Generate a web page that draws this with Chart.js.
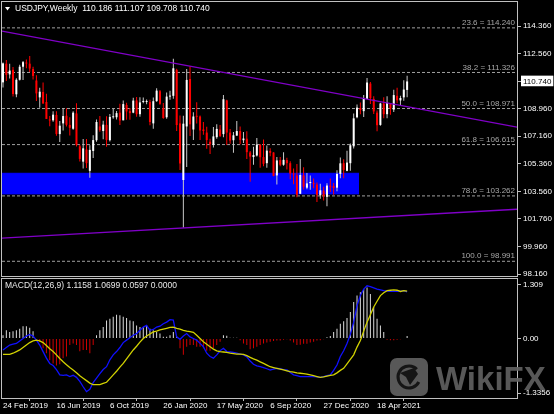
<!DOCTYPE html>
<html>
<head>
<meta charset="utf-8">
<script src="https://cdn.jsdelivr.net/npm/chart.js@4.4.1/dist/chart.umd.min.js"></script>
<style>
  html, body { margin: 0; padding: 0; background: #000; }
  #wrap { position: relative; width: 554px; height: 414px; overflow: hidden; background: #000; }
  #main { position: absolute; left: 0; top: 0; }
  #macd { position: absolute; left: 0; top: 277px; }
</style>
</head>
<body>
<div id="wrap">
  <canvas id="main" width="554" height="277"></canvas>
  <canvas id="macd" width="554" height="137"></canvas>
</div>
<script>
const FONT = "'Liberation Sans', Arial, sans-serif";

// weekly USDJPY candles, 24 Feb 2019 .. 20 Jun 2021
const open = [110.68,111.90,111.20,111.50,109.90,110.85,111.70,111.95,111.90,111.55,
  110.80,109.70,110.05,109.40,108.20,108.20,108.55,107.30,108.00,108.50,
  107.90,107.65,108.65,106.50,105.50,106.30,104.90,106.20,106.90,107.80,
  107.50,107.90,106.90,108.40,108.40,108.70,108.20,109.20,108.80,108.70,
  109.50,108.60,109.40,109.40,109.40,108.00,109.45,110.10,109.00,108.40,
  109.75,109.80,111.50,108.00,104.30,107.80,110.90,107.60,108.45,108.45,
  107.60,107.40,106.80,106.60,107.10,107.60,107.30,109.50,107.40,106.90,
  107.20,107.50,106.90,107.00,106.10,105.80,105.90,106.60,105.80,105.40,
  106.20,106.10,104.60,105.60,105.30,105.60,105.40,104.70,104.60,103.40,
  104.60,103.80,104.10,104.10,104.00,103.30,103.60,103.20,103.90,103.90,
  103.80,104.70,105.40,104.90,105.40,106.50,108.40,109.00,108.80,109.60,
  110.60,109.60,108.70,107.90,109.30,108.60,109.30,108.90,109.80,109.50,
  109.70,110.186];
const high = [111.97,112.14,111.90,111.69,110.95,111.83,112.08,112.17,112.40,111.70,
  111.15,110.32,110.67,109.93,108.48,108.80,108.80,108.16,108.99,108.99,
  108.40,108.80,109.32,106.60,106.98,106.98,106.57,107.23,108.26,108.48,
  108.18,108.47,108.62,108.94,108.81,109.29,109.49,109.35,109.00,109.68,
  109.73,109.70,109.69,109.56,109.55,109.69,110.29,110.18,109.33,110.02,
  110.14,112.23,111.57,108.52,108.50,111.56,111.71,108.72,109.38,108.52,
  108.09,107.78,107.00,107.77,107.95,107.89,109.85,109.55,107.64,107.44,
  108.16,107.79,107.43,107.48,106.19,106.48,107.05,106.66,106.95,106.55,
  106.38,106.11,105.80,105.80,106.11,105.75,105.52,105.05,105.35,105.68,
  105.14,104.76,104.60,104.40,104.14,104.06,103.86,104.09,104.40,104.10,
  104.94,105.77,105.65,106.22,106.69,108.64,109.24,109.36,109.85,110.97,
  110.70,109.78,108.84,109.35,109.70,109.78,109.32,110.20,110.33,109.80,
  110.82,111.107];
const low = [110.35,110.77,110.94,109.75,109.70,110.80,110.84,111.60,111.35,110.86,
  109.47,109.02,109.28,108.28,107.82,108.10,107.20,106.78,107.53,107.80,
  107.21,107.59,106.49,105.51,105.05,105.08,104.45,105.74,106.80,107.45,
  106.96,106.48,106.81,108.31,108.25,107.89,108.20,108.24,108.24,108.66,
  108.43,108.43,109.32,109.25,107.88,107.65,109.42,109.21,108.31,108.30,
  109.55,109.61,107.50,104.96,101.18,105.15,107.17,106.92,108.00,106.92,
  107.25,106.35,106.00,106.43,107.00,107.11,107.10,106.58,106.67,106.08,
  107.20,106.64,106.72,105.68,104.19,105.30,105.83,105.10,105.20,105.10,
  105.85,104.54,104.00,105.20,105.23,104.98,104.35,104.03,103.18,103.40,
  103.68,103.69,103.66,103.77,102.87,103.07,102.96,102.59,103.52,103.33,
  103.57,104.42,104.41,104.88,104.91,106.36,108.33,108.60,108.41,109.60,
  109.26,108.61,107.48,107.84,108.34,108.34,108.56,108.75,109.32,109.19,
  109.48,109.708];
const close = [111.92,111.17,111.45,109.92,110.85,111.70,112.00,111.91,111.58,111.10,
  109.96,110.07,109.30,108.29,108.19,108.57,107.31,107.85,108.48,107.91,
  107.71,108.70,106.59,105.68,106.37,105.40,106.27,106.91,108.09,107.56,
  107.92,106.92,108.42,108.44,108.67,108.19,109.26,108.78,108.67,109.49,
  108.60,109.37,109.43,109.45,108.09,109.45,110.14,109.28,108.35,109.75,
  109.77,111.60,107.89,105.38,107.98,110.84,107.94,108.45,108.43,107.54,
  107.50,106.91,106.64,107.15,107.64,107.18,109.58,107.40,106.88,107.22,
  107.50,106.92,107.01,106.12,105.83,105.93,106.61,105.79,105.36,106.22,
  106.08,104.57,105.58,105.30,105.62,105.40,104.72,104.66,103.33,104.63,
  103.86,104.08,104.17,104.03,103.33,103.63,103.25,103.94,103.86,103.78,
  104.70,105.39,104.96,105.44,106.57,108.33,109.03,108.87,109.64,110.67,
  109.65,108.78,107.88,109.30,108.60,109.35,108.97,109.85,109.51,109.66,
  110.21,110.740];

// MACD panel
const macdHist = [0.08,0.20,0.16,0.18,0.20,0.24,0.30,0.30,0.26,0.18,
  -0.04,-0.08,-0.24,-0.36,-0.53,-0.61,-0.66,-0.63,-0.48,-0.44,
  -0.16,-0.12,-0.16,-0.31,-0.28,-0.28,-0.36,-0.16,0.08,0.20,
  0.28,0.44,0.48,0.53,0.58,0.57,0.53,0.50,0.44,0.42,
  0.32,0.28,0.28,0.32,0.24,0.20,0.16,0.12,0.04,0.04,
  0.08,0.16,0.04,-0.24,-0.40,-0.20,-0.16,-0.16,-0.20,-0.20,
  -0.24,-0.30,-0.30,-0.24,-0.16,-0.08,0.08,0.07,0.02,0.02,
  0.02,-0.04,-0.12,-0.16,-0.26,-0.24,-0.20,-0.16,-0.12,-0.10,
  -0.08,-0.06,-0.05,-0.05,-0.03,-0.02,-0.05,-0.10,-0.16,-0.15,
  -0.13,-0.13,-0.10,-0.08,-0.05,-0.04,-0.02,0.03,0.06,0.16,
  0.24,0.36,0.42,0.50,0.65,0.89,1.05,1.13,1.21,1.25,
  1.09,0.77,0.48,0.32,0.16,-0.03,-0.04,-0.04,-0.03,-0.02,
  -0.01,0.06];
const macdMain = [-0.28,-0.22,-0.16,-0.14,-0.12,-0.06,0.00,0.06,0.10,0.06,
  -0.04,-0.16,-0.32,-0.48,-0.61,-0.66,-0.76,-0.89,-0.90,-0.89,
  -0.93,-0.90,-0.95,-1.05,-1.18,-1.30,-1.24,-1.08,-0.97,-0.86,
  -0.76,-0.69,-0.52,-0.40,-0.32,-0.22,-0.10,-0.04,0.02,0.08,
  0.12,0.20,0.28,0.32,0.20,0.22,0.28,0.30,0.36,0.40,
  0.46,0.45,0.04,-0.02,0.06,0.12,0.04,0.00,-0.04,-0.12,
  -0.20,-0.36,-0.44,-0.48,-0.40,-0.30,-0.24,-0.32,-0.33,-0.34,
  -0.36,-0.38,-0.40,-0.45,-0.55,-0.63,-0.67,-0.69,-0.71,-0.74,
  -0.77,-0.75,-0.73,-0.74,-0.76,-0.77,-0.83,-0.89,-0.91,-0.93,
  -0.93,-0.93,-0.93,-0.93,-0.94,-0.95,-0.93,-0.91,-0.89,-0.78,
  -0.65,-0.44,-0.30,-0.12,0.10,0.40,0.80,1.05,1.21,1.29,
  1.27,1.24,1.21,1.19,1.17,1.16,1.15,1.15,1.15,1.16,
  1.17,1.14];
const macdSignal = [-0.39,-0.39,-0.39,-0.36,-0.32,-0.28,-0.22,-0.16,-0.10,-0.06,
  -0.04,-0.06,-0.10,-0.17,-0.25,-0.32,-0.40,-0.49,-0.57,-0.64,
  -0.71,-0.77,-0.84,-0.91,-0.97,-1.03,-1.09,-1.13,-1.13,-1.13,
  -1.10,-1.07,-0.98,-0.89,-0.80,-0.70,-0.61,-0.50,-0.39,-0.28,
  -0.19,-0.09,0.00,0.06,0.11,0.16,0.18,0.21,0.23,0.25,
  0.27,0.28,0.25,0.23,0.20,0.18,0.17,0.15,0.08,0.00,
  -0.08,-0.14,-0.20,-0.26,-0.30,-0.32,-0.33,-0.34,-0.36,-0.37,
  -0.38,-0.38,-0.39,-0.42,-0.46,-0.50,-0.53,-0.57,-0.61,-0.65,
  -0.69,-0.71,-0.73,-0.75,-0.77,-0.79,-0.81,-0.82,-0.84,-0.85,
  -0.86,-0.87,-0.89,-0.91,-0.93,-0.95,-0.94,-0.92,-0.90,-0.89,
  -0.84,-0.78,-0.73,-0.62,-0.51,-0.40,-0.21,-0.05,0.18,0.40,
  0.58,0.77,0.91,1.05,1.12,1.17,1.18,1.19,1.18,1.15,
  1.17,1.16];

// axis ticks and labels
const dateTickIdx = [0, 16, 32, 48, 64, 80, 96, 112];
const dateTicks = ['24 Feb 2019', '16 Jun 2019', '6 Oct 2019', '26 Jan 2020', '17 May 2020', '6 Sep 2020', '27 Dec 2020', '18 Apr 2021'];
const priceTicks = [98.160, 99.960, 101.760, 103.560, 105.360, 107.160, 108.960, 110.740, 112.560, 114.360];
const macdTicks = [-1.3356, 0, 1.309];
const macdTickText = ['-1.3356', '0.00', '1.309'];

// drawn objects: fibo levels, trend lines, zone
const fibPct = [23.6, 38.2, 50.0, 61.8, 78.6, 100.0];
const fibPrice = [114.240, 111.326, 108.971, 106.615, 103.262, 98.991];
const trendX = [-0.3, 153.9];
const upperTrend = [114.03, 107.76];
const lowerTrend = [100.51, 102.39];
const zoneX = [-0.3, 106.6];
const zoneTop = 104.74;
const zoneBottom = 103.39;

const lastClose = 110.74;
const X_MIN = -0.3, X_MAX = 153.9;

const idx = close.map((c, i) => i);
const isUp = idx.map(i => close[i] >= open[i]);

// outline round each window, like the terminal does
const framePlugin = {
    id: 'frame',
    afterDraw(chart) {
        const { ctx, chartArea: a } = chart;
        ctx.save();
        ctx.strokeStyle = '#c0c0c0';
        ctx.lineWidth = 1;
        ctx.strokeRect(Math.round(a.left) - 0.5, Math.round(a.top) - 0.5,
            Math.round(a.right - a.left) + 1, Math.round(a.bottom - a.top) + 1);
        ctx.restore();
    }
};

const mainText = {
    id: 'mainText',
    afterDraw(chart) {
        const { ctx, chartArea: a, scales: { y } } = chart;
        ctx.save();
        // fibo level captions
        ctx.font = `8px ${FONT}`;
        ctx.fillStyle = '#a8a8a8';
        ctx.textAlign = 'right';
        ctx.textBaseline = 'bottom';
        fibPct.forEach((p, k) => {
            ctx.fillText(`${p.toFixed(1)} = ${fibPrice[k].toFixed(3)}`, a.right - 2, y.getPixelForValue(fibPrice[k]) - 1);
        });
        // symbol line
        ctx.fillStyle = '#ffffff';
        ctx.beginPath();
        ctx.moveTo(5, 7); ctx.lineTo(10, 7); ctx.lineTo(7.5, 10.5); ctx.closePath();
        ctx.fill();
        ctx.textAlign = 'left';
        ctx.textBaseline = 'middle';
        ctx.font = `8.5px ${FONT}`;
        ctx.fillText('USDJPY,Weekly  110.186 111.107 109.708 110.740', 15, 9);
        ctx.restore();
    }
};

const macdText = {
    id: 'macdText',
    afterDraw(chart) {
        const { ctx } = chart;
        ctx.save();
        ctx.fillStyle = '#e8e8e8';
        ctx.font = `8.5px ${FONT}`;
        ctx.textBaseline = 'middle';
        ctx.fillText('MACD(12,26,9) 1.1158 1.0699 0.0597 0.0000', 5, 9);
        // watermark
        ctx.fillStyle = 'rgba(96,96,96,0.92)';
        ctx.beginPath();
        ctx.roundRect(390, 81, 38, 38, 7);
        ctx.fill();
        ctx.strokeStyle = '#151515';
        ctx.lineWidth = 3;
        ctx.beginPath();
        ctx.arc(409, 100, 11, Math.PI * 0.15, Math.PI * 1.75);
        ctx.stroke();
        ctx.fillStyle = '#151515';
        ctx.beginPath();
        ctx.moveTo(400, 96); ctx.lineTo(414, 91); ctx.lineTo(418, 97); ctx.lineTo(410, 108); ctx.lineTo(406, 100); ctx.closePath();
        ctx.fill();
        ctx.fillStyle = 'rgba(96,96,96,0.92)';
        ctx.font = `bold 33px ${FONT}`;
        ctx.textBaseline = 'alphabetic';
        ctx.fillText('WikiFX', 436, 113);
        ctx.restore();
    }
};

function noPad(scale) {
    scale.paddingTop = 0;
    scale.paddingBottom = 0;
    scale.paddingLeft = 0;
    scale.paddingRight = 0;
}

// Price window
new Chart(document.getElementById('main'), {
    type: 'bar',
    data: {
        datasets: [
            {
                type: 'line',
                data: zoneX.map(x => ({ x, y: zoneTop })),
                borderColor: '#0000ff', borderWidth: 1, pointRadius: 0,
                backgroundColor: '#0000ff', fill: '+1', order: 10
            },
            {
                type: 'line',
                data: zoneX.map(x => ({ x, y: zoneBottom })),
                borderColor: '#0000ff', borderWidth: 1, pointRadius: 0,
                fill: false, order: 10
            },
            ...fibPrice.map(p => ({
                type: 'line',
                data: trendX.map(x => ({ x, y: p })),
                borderColor: '#a0a0a0', borderWidth: 1, borderDash: [3, 2],
                pointRadius: 0, fill: false, order: 9
            })),
            {
                data: idx.map(i => ({ x: i, y: [low[i], high[i]] })),
                backgroundColor: idx.map(i => isUp[i] ? '#c8c8c8' : '#ff0000'),
                borderWidth: 0, maxBarThickness: 1, grouped: false, order: 5
            },
            {
                data: idx.map(i => ({ x: i, y: [open[i], close[i]] })),
                backgroundColor: idx.map(i => isUp[i] ? '#ffffff' : '#ff0000'),
                borderWidth: 0, maxBarThickness: 2, minBarLength: 1, grouped: false, order: 4
            },
            {
                type: 'line',
                data: trendX.map((x, k) => ({ x, y: upperTrend[k] })),
                borderColor: '#8000c8', borderWidth: 1.3, pointRadius: 0, fill: false, order: 1
            },
            {
                type: 'line',
                data: trendX.map((x, k) => ({ x, y: lowerTrend[k] })),
                borderColor: '#8000c8', borderWidth: 1.3, pointRadius: 0, fill: false, order: 1
            }
        ]
    },
    options: {
        responsive: false,
        animation: false,
        events: [],
        layout: { padding: { left: 2, top: 2, right: 0, bottom: 1 } },
        plugins: { legend: { display: false }, tooltip: { enabled: false } },
        scales: {
            x: { type: 'linear', min: X_MIN, max: X_MAX, offset: false, display: false },
            y: {
                type: 'linear',
                position: 'right',
                min: 98.03,
                max: 115.93,
                border: { display: false },
                grid: { drawOnChartArea: false, drawTicks: true, tickLength: 4, tickColor: '#c0c0c0' },
                ticks: {
                    font: { family: FONT, size: 8 },
                    padding: 2,
                    color: ctx => (ctx.tick && ctx.tick.value === lastClose) ? '#000000' : '#ffffff',
                    showLabelBackdrop: ctx => !!(ctx.tick && ctx.tick.value === lastClose),
                    backdropColor: '#ffffff',
                    backdropPadding: { top: 1, bottom: 0, left: 2, right: 2 },
                    callback: v => v.toFixed(3)
                },
                afterBuildTicks: s => { s.ticks = priceTicks.map(v => ({ value: v })); },
                afterFit: s => { s.width = 37; noPad(s); }
            }
        }
    },
    plugins: [framePlugin, mainText]
});

// MACD window
new Chart(document.getElementById('macd'), {
    type: 'bar',
    data: {
        datasets: [
            {
                data: idx.map(i => ({ x: i, y: macdHist[i] })),
                backgroundColor: macdHist.map(v => v >= 0 ? '#dcdcdc' : '#d00000'),
                borderWidth: 0, maxBarThickness: 1, grouped: false, order: 3
            },
            {
                type: 'line',
                data: idx.map(i => ({ x: i, y: macdMain[i] })),
                borderColor: '#1010ff', borderWidth: 1.3, pointRadius: 0, fill: false, order: 2
            },
            {
                type: 'line',
                data: idx.map(i => ({ x: i, y: macdSignal[i] })),
                borderColor: '#d2d200', borderWidth: 1.3, pointRadius: 0, fill: false, order: 1
            }
        ]
    },
    options: {
        responsive: false,
        animation: false,
        events: [],
        layout: { padding: { left: 2, top: 2, right: 0, bottom: 0 } },
        plugins: { legend: { display: false }, tooltip: { enabled: false } },
        scales: {
            x: {
                type: 'linear',
                position: 'bottom',
                min: X_MIN,
                max: X_MAX,
                offset: false,
                border: { display: false },
                grid: { drawOnChartArea: false, drawTicks: true, tickLength: 3, tickColor: '#c0c0c0' },
                ticks: {
                    autoSkip: false,
                    maxRotation: 0,
                    align: 'start',
                    padding: 0,
                    color: '#ffffff',
                    font: { family: FONT, size: 8 },
                    callback: v => dateTicks[dateTickIdx.indexOf(v)]
                },
                afterBuildTicks: s => { s.ticks = dateTickIdx.map(v => ({ value: v })); },
                afterFit: s => { s.height = 16; noPad(s); }
            },
            y: {
                type: 'linear',
                position: 'right',
                min: -1.455,
                max: 1.455,
                border: { display: false },
                grid: { drawOnChartArea: false, drawTicks: true, tickLength: 4, tickColor: '#c0c0c0' },
                ticks: {
                    font: { family: FONT, size: 8 },
                    padding: 2,
                    color: '#ffffff',
                    callback: v => macdTickText[macdTicks.indexOf(v)]
                },
                afterBuildTicks: s => { s.ticks = macdTicks.map(v => ({ value: v })); },
                afterFit: s => { s.width = 37; noPad(s); }
            }
        }
    },
    plugins: [framePlugin, macdText]
});
</script>
</body>
</html>
